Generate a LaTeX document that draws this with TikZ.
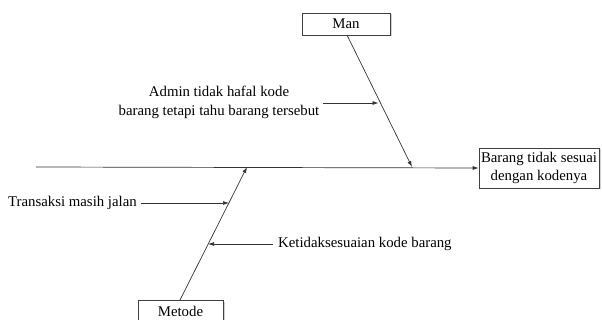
\documentclass[tikz,border=0pt]{standalone}
\usepackage{fontspec}
\setmainfont{Liberation Serif}
\usetikzlibrary{arrows.meta,shadows}
\begin{document}
\begin{tikzpicture}[x=1pt,y=-1pt,
  box/.style={draw=black!75,fill=white,line width=0.6pt,
    drop shadow={shadow xshift=1.5pt,shadow yshift=-1.5pt,fill=black!30,opacity=0.6},
    inner sep=0pt,align=center,font=\fontsize{14.8}{18}\selectfont},
  lbl/.style={inner sep=0pt,align=center,font=\fontsize{14.8}{19}\selectfont},
  ln/.style={draw=black!80,line width=0.7pt},
  arr/.style={ln,-{Latex[length=6pt,width=4pt]}}]
\useasboundingbox (0,0) rectangle (602,320);
\node[box,minimum width=88pt,minimum height=22pt] (man) at (346,24) {Man};
\node[box,minimum width=120pt,minimum height=40pt] (eff) at (539,168) {Barang tidak sesuai\\dengan kodenya};
\node[box,minimum width=85pt,minimum height=22pt] (met) at (180.5,311) {Metode};
\coordinate (s0) at (36,167);
\coordinate (mantop) at (347,35);
\coordinate (manend) at (412,167);
\coordinate (mettop) at (180,300);
\coordinate (metend) at (247,167);
\draw[arr] (s0) -- (eff.west);
\draw[arr] (mantop) -- (manend);
\draw[arr] (mettop) -- (metend);
\node[lbl] (admin) at (219,102) {Admin tidak hafal kode\\barang tetapi tahu barang tersebut};
\coordinate (a1) at (378.5,103);
\draw[arr] (323,103) -- (a1);
\node[lbl,anchor=west] (trans) at (8,203) {Transaksi masih jalan};
\coordinate (t1) at (229,203);
\draw[arr] (trans.east) ++(4,0) -- (t1);
\node[lbl,anchor=west] (ket) at (278,244) {Ketidaksesuaian kode barang};
\coordinate (k1) at (208,244);
\draw[arr] (ket.west) ++(-5,0) -- (k1);
\end{tikzpicture}
\end{document}
